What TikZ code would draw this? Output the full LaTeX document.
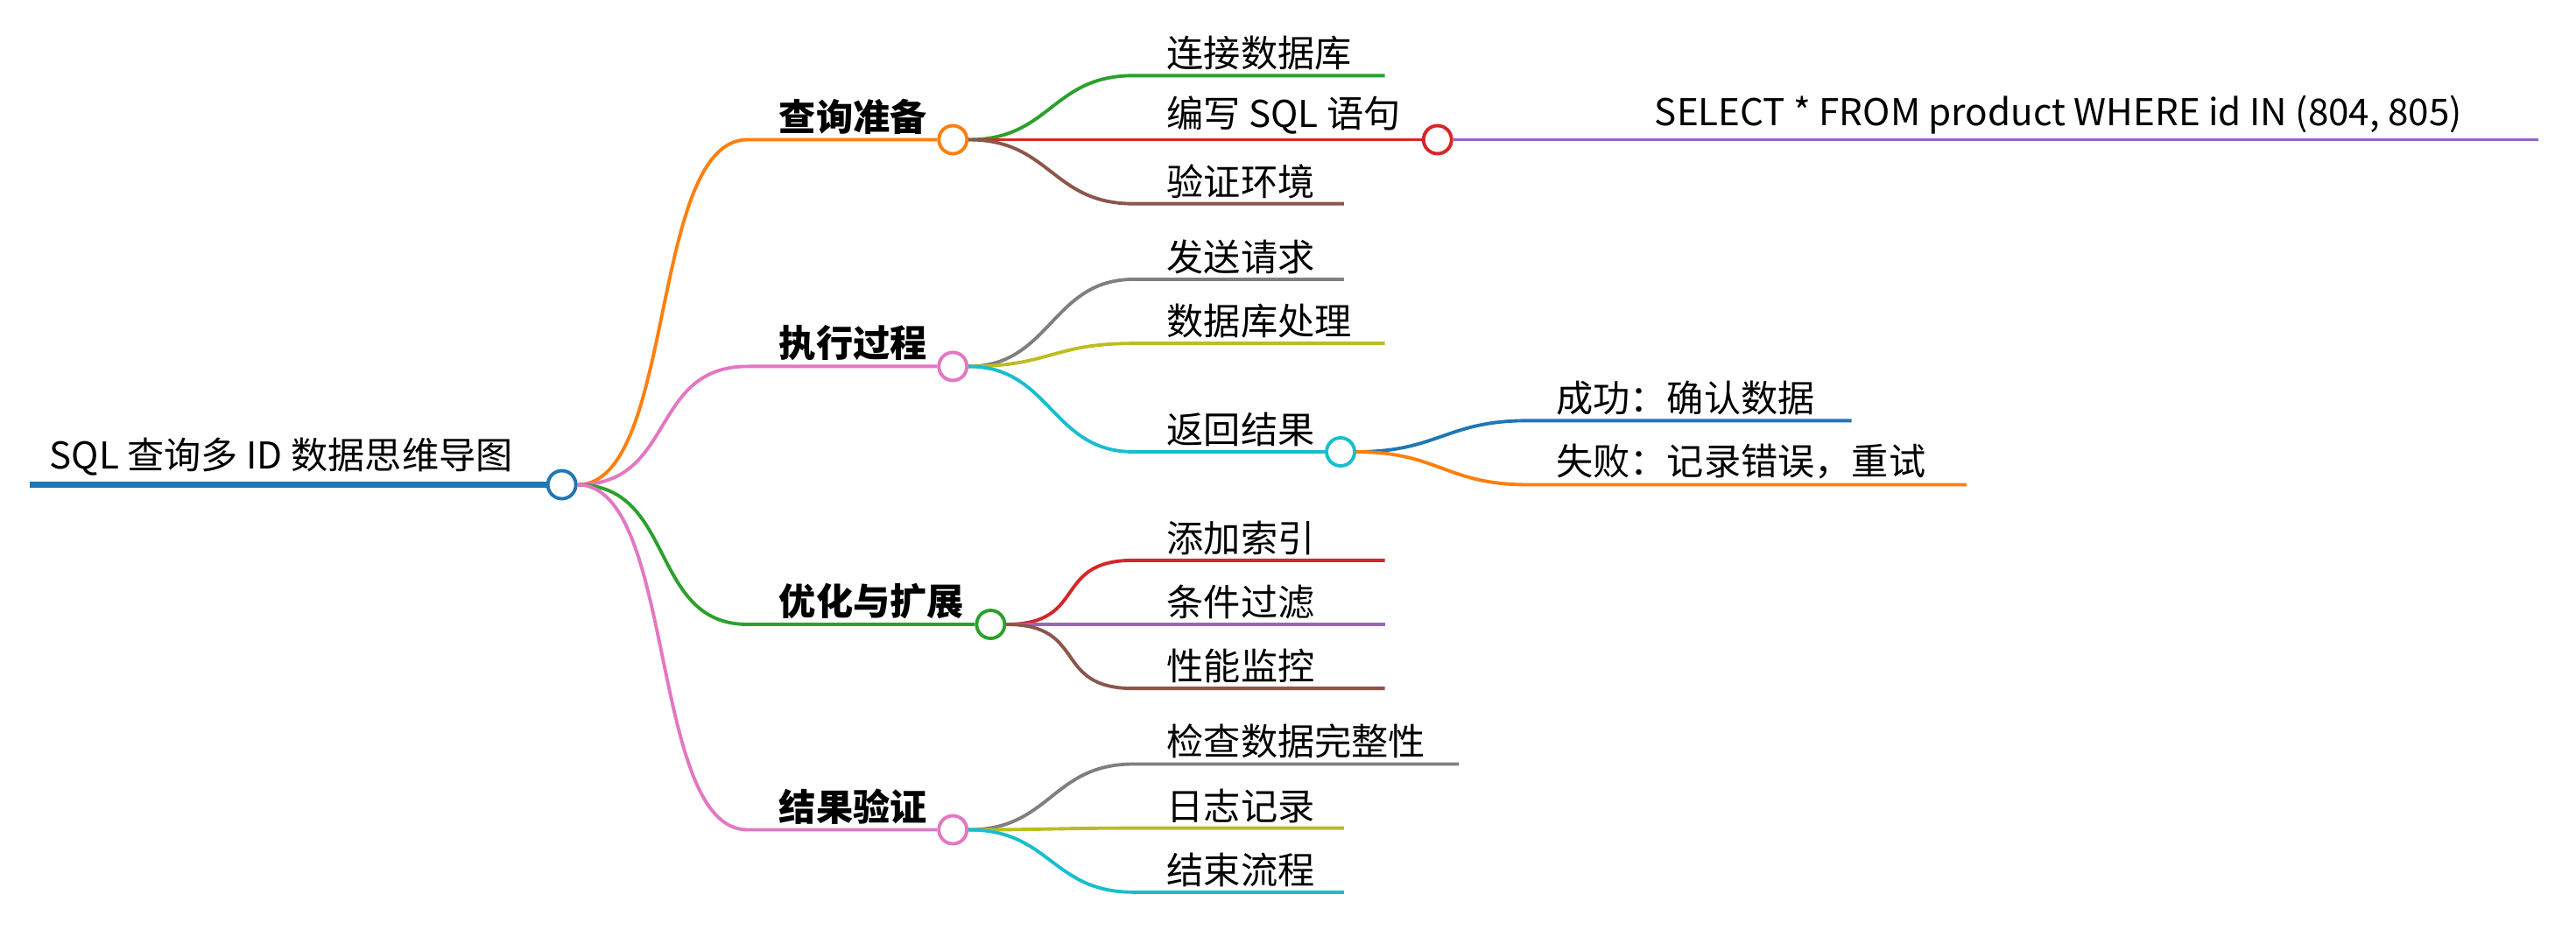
\documentclass[tikz,border=0pt]{standalone}
\usepackage{fontspec}
\setmainfont{Noto Sans CJK SC}
\definecolor{cBlue}{HTML}{1F77B4}\definecolor{cOrange}{HTML}{FF7F0E}
\definecolor{cGreen}{HTML}{2CA02C}\definecolor{cRed}{HTML}{D62728}
\definecolor{cPurple}{HTML}{9467BD}\definecolor{cBrown}{HTML}{8C564B}
\definecolor{cPink}{HTML}{E377C2}\definecolor{cGray}{HTML}{7F7F7F}
\definecolor{cOlive}{HTML}{BCBD22}\definecolor{cCyan}{HTML}{17BECF}
\begin{document}
\begin{tikzpicture}[x=0.01876cm,y=-0.01876cm,
  dot/.style={circle,draw=#1,fill=white,line width=1.1pt,minimum size=0.32cm,inner sep=0pt},
  ln/.style={draw=#1,line width=1.1pt},
  lab/.style={anchor=south west,inner sep=1pt,font=\fontsize{12}{14}\selectfont},
  blab/.style={lab,font=\fontsize{12}{14}\selectfont\bfseries}]
\useasboundingbox (0,0) rectangle (1568,570);
% root
\coordinate (r0) at (18,295);
\node[dot=cBlue] (r) at (342,295) {};
\draw[draw=cBlue,line width=2pt] (r0) -- (r.west);
\node[lab] at (28,292) {SQL 查询多 ID 数据思维导图};
% level 1
\newcommand\branch[5]{% name, color, y, circle x, label
  \coordinate (#1s) at (455,#3);
  \node[dot=#2] (#1) at (#4,#3) {};
  \draw[ln=#2] (r.east) .. controls +(60,0) and +(-60,0) .. (#1s) -- (#1.west);
  \node[blab] at (472,#3-1) {#5};}
\branch{a}{cOrange}{85}{580}{查询准备}
\branch{b}{cPink}{223}{580}{执行过程}
\branch{c}{cGreen}{380}{603}{优化与扩展}
\branch{d}{cPink}{505}{580}{结果验证}
% leaves
\newcommand\leaf[6]{% parent, name, color, y, x end, label
  \coordinate (#2s) at (690,#4); \coordinate (#2e) at (#5,#4);
  \draw[ln=#3] (#1.east) .. controls +(50,0) and +(-50,0) .. (#2s) -- (#2e);
  \node[lab] at (708,#4-1) {#6};}
\leaf{a}{a1}{cGreen}{46}{843}{连接数据库}
\coordinate (a2s) at (690,85);
\node[dot=cRed] (a2) at (875,85) {};
\draw[ln=cRed] (a.east) -- (a2.west);
\node[lab] at (708,84) {编写 SQL 语句};
\leaf{a}{a3}{cBrown}{124}{818}{验证环境}
\coordinate (a21) at (1545,85);
\draw[ln=cPurple] (a2.east) -- (a21);
\node[lab] at (1005,84) {SELECT * FROM product WHERE id IN (804, 805)};
\leaf{b}{b1}{cGray}{170}{818}{发送请求}
\leaf{b}{b2}{cOlive}{209}{843}{数据库处理}
\node[dot=cCyan] (b3) at (816,275) {};
\draw[ln=cCyan] (b.east) .. controls +(50,0) and +(-50,0) .. (690,275) -- (b3.west);
\node[lab] at (708,274) {返回结果};
\coordinate (b31) at (1127,256); \coordinate (b32) at (1197,295);
\draw[ln=cBlue] (b3.east) .. controls +(50,0) and +(-50,0) .. (930,256) -- (b31);
\draw[ln=cOrange] (b3.east) .. controls +(50,0) and +(-50,0) .. (930,295) -- (b32);
\node[lab] at (945,255) {成功：确认数据};
\node[lab] at (945,294) {失败：记录错误，重试};
\leaf{c}{c1}{cRed}{341}{843}{添加索引}
\leaf{c}{c2}{cPurple}{380}{843}{条件过滤}
\leaf{c}{c3}{cBrown}{419}{843}{性能监控}
\leaf{d}{d1}{cGray}{465}{888}{检查数据完整性}
\leaf{d}{d2}{cOlive}{504}{818}{日志记录}
\leaf{d}{d3}{cCyan}{543}{818}{结束流程}
\end{tikzpicture}
\end{document}
